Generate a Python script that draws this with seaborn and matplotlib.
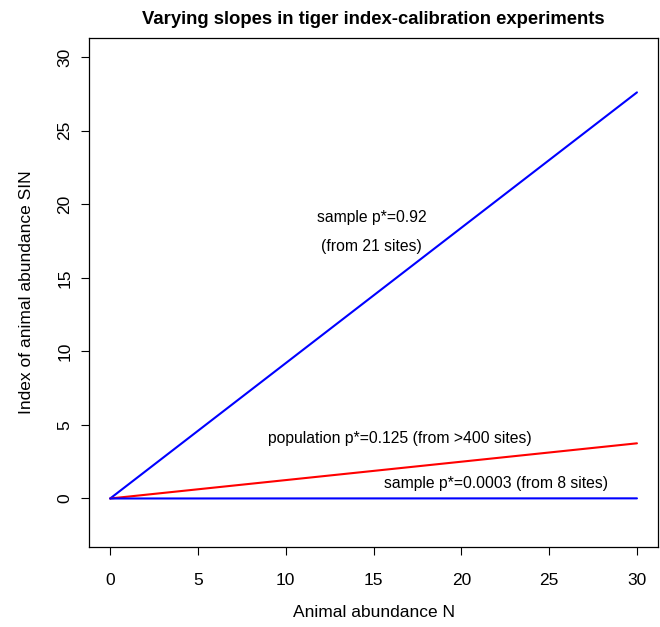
import matplotlib
matplotlib.use("Agg")
import matplotlib.pyplot as plt
import seaborn as sns
import pandas as pd

# abundance range and the three calibration slopes
abundance = [0, 30]
slope_labels = ["sample p*=0.92", "population p*=0.125", "sample p*=0.0003"]
slopes = [0.92, 0.125, 0.0003]
line_colors = ["#0000ff", "#ff0000", "#0000ff"]

rows = []
for lab, s in zip(slope_labels, slopes):
    for n in abundance:
        rows.append({"N": n, "SIN": s * n, "series": lab})
df = pd.DataFrame(rows)

sns.set_style("ticks")
plt.rcParams['font.family'] = ['Liberation Sans', 'DejaVu Sans']
plt.rcParams['text.color'] = 'black'
plt.rcParams['axes.labelcolor'] = 'black'

fig = plt.figure(figsize=(6.6, 6.27), dpi=100)
ax = fig.add_axes([0.135, 0.128, 0.862, 0.811])

sns.lineplot(data=df, x="N", y="SIN", hue="series", palette=line_colors,
             hue_order=slope_labels, linewidth=1.5, legend=False, ax=ax)

ax.set_xlim(-1.2, 31.2)
ax.set_ylim(-3.28, 31.28)
ax.set_xticks(range(0, 31, 5))
ax.set_yticks(range(0, 31, 5))
ax.tick_params(axis="both", direction="out", length=6, width=0.8,
               labelsize=12.5, colors="black")
ax.tick_params(axis="x", pad=13)
ax.tick_params(axis="y", pad=6)
for lab in ax.get_yticklabels():
    lab.set_rotation(90)
    lab.set_va("center")
for sp in ax.spines.values():
    sp.set_visible(True)
    sp.set_linewidth(0.9)
    sp.set_color("black")

ax.set_xlabel("Animal abundance N", fontsize=12.5, labelpad=12)
ax.set_ylabel("Index of animal abundance SIN", fontsize=12.5, labelpad=17)
ax.set_title("Varying slopes in tiger index-calibration experiments",
             fontsize=13.3, fontweight="bold", pad=10)

ax.text(14.9, 19.1, "sample p*=0.92", ha="center", va="center", fontsize=11.3)
ax.text(14.9, 17.1, "(from 21 sites)", ha="center", va="center", fontsize=11.3)
ax.text(16.5, 4.1, "population p*=0.125 (from >400 sites)", ha="center",
        va="center", fontsize=11.3)
ax.text(22.0, 1.0, "sample p*=0.0003 (from 8 sites)", ha="center",
        va="center", fontsize=11.3)

fig.savefig("out.png", dpi=100)
